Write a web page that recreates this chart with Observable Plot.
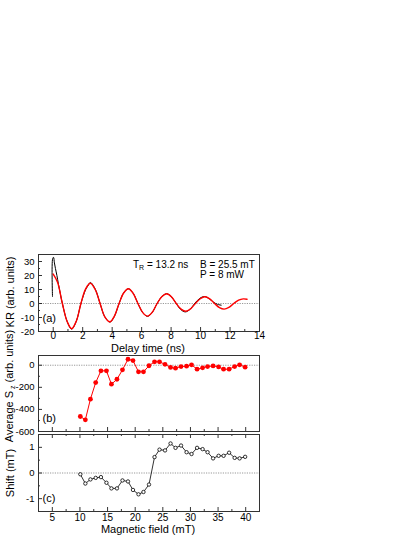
<!DOCTYPE html>
<html><head><meta charset="utf-8">
<script src="https://cdn.jsdelivr.net/npm/d3@7"></script>
<script src="https://cdn.jsdelivr.net/npm/@observablehq/plot@0.6"></script>
<style>
body{margin:0;background:#fff;font-family:"Liberation Sans",Arial,sans-serif;color:#000;}
#chart{position:relative;width:415px;height:537px;overflow:hidden;}
#chart svg{position:absolute;left:0;}
.lab{position:absolute;font-size:11px;white-space:nowrap;transform:translate(-50%,-50%);line-height:1;}
.ylab{position:absolute;font-size:11px;white-space:nowrap;transform:translate(-50%,-50%) rotate(-90deg);line-height:1;}
.ann{position:absolute;font-size:10px;white-space:nowrap;line-height:1;}
sub{font-size:7px;vertical-align:-2px;}
</style></head><body><div id="chart"></div><script>
// ---- Panel (a): Kerr rotation vs delay time ----
const fitTime = [0,0.3,0.62,0.95,1.25,1.57,1.88,2.2,2.52,2.85,3.18,3.5,3.85,4.15,4.47,4.78,5.1,5.42,5.75,6.08,6.4,6.72,7.05,7.38,7.7,8.02,8.35,8.68,9.0,9.32,9.65,9.98,10.3,10.62,10.95,11.28,11.6,11.92,12.25,12.58,12.9,13.15];
const fitKR   = [21,15,0,-13,-18,-12.5,0,10.5,14.5,10,0,-9.5,-13,-9,0,7.5,10.5,7.3,0,-6.5,-9,-6.3,0,5,7,4.9,0,-4,-5.5,-3.8,0,3.4,4.8,3.3,0,-2.9,-4,-2.8,0,2.4,3.3,3];
const dataTime = [-0.05,-0.04,0.02,0.08,0.15,0.25,0.35,0.48,0.62,0.95,1.25,1.57,1.88,2.2,2.35,2.52,2.85,3.18,3.5,3.85,4.15,4.47,4.78,5.1,5.42,5.75,6.08,6.4,6.72,7.05,7.38,7.7,8.02,8.33,8.65,8.97,9.3,9.62,9.95,10.27,10.6,10.9,11.15,11.4];
const dataKR   = [5,32,33,29,25,20,14,7,0,-13,-18.3,-12.5,0,10,12.5,15,10.3,0,-9.5,-13.3,-9.2,0,7.6,10.5,7.4,0,-6.6,-9.2,-6.4,0,5,7,4.8,0.3,-4.3,-6,-4,0.3,3.7,5,3.3,0.8,-0.6,-1.2];
const delayTicks = [0,2,4,6,8,10,12,14];
const delayMinor = [-1,1,3,5,7,9,11,13];
const krTicks = [-20,-10,0,10,20,30];
const krMinor = [-15,-5,5,15,25,35];

// ---- Panels (b), (c): vs magnetic field ----
const field = [10.07,10.98,11.9,12.85,13.8,14.8,15.7,16.7,17.7,18.7,19.6,20.6,21.5,22.5,23.5,24.4,25.4,26.4,27.3,28.3,29.3,30.2,31.2,32.2,33.1,34.1,35.1,36.0,37.0,38.0,38.9,39.9];
const avgSz = [-464,-494,-307,-157,-51,-51,-172,-127,-42,54,42,-60,-60,-5,31,31,8,-20,-27,-12,-9,4,-36,-24,-12,-6,-15,-36,-36,-12,4,-18];
const shift = [-0.05,-0.41,-0.25,-0.19,-0.16,-0.38,-0.6,-0.6,-0.29,-0.33,-0.66,-0.83,-0.74,-0.45,0.62,0.91,0.88,1.15,0.98,1.07,0.81,0.74,0.98,0.93,0.81,0.57,0.67,0.67,0.79,0.59,0.57,0.63];
const fieldTicks = [5,10,15,20,25,30,35,40];
const fieldMinor = [2.5,7.5,12.5,17.5,22.5,27.5,32.5,37.5,42.5];
const szTicks = [-600,-400,-200,0];
const szMinor = [-500,-300,-100];
const shiftTicks = [-1,0,1];
const shiftMinor = [-0.5,0.5];

const fitRows = fitTime.map((t,i)=>({t, v: fitKR[i]}));
const dataRows = dataTime.map((t,i)=>({t, v: dataKR[i]}));
const szRows = field.map((b,i)=>({b, v: avgSz[i]}));
const shRows = field.map((b,i)=>({b, v: shift[i]}));

const FONT = '"Liberation Sans", Arial, sans-serif';
const ML = 38, MR = 415-259;
const fmt = d => String(d);
const chart = document.getElementById("chart");

function inTicks(fh, fw, xs, xsMinor, ys, ysMinor, top=false){
  const m = [];
  m.push(Plot.ruleX(xs, {x: d=>d, insetTop: fh-4, stroke:"#000", strokeWidth:0.8}));
  m.push(Plot.ruleX(xsMinor, {x: d=>d, insetTop: fh-2, stroke:"#000", strokeWidth:0.8}));
  if (top) {
    m.push(Plot.ruleX(xs, {x: d=>d, insetBottom: fh-4, stroke:"#000", strokeWidth:0.8}));
    m.push(Plot.ruleX(xsMinor, {x: d=>d, insetBottom: fh-2, stroke:"#000", strokeWidth:0.8}));
  }
  m.push(Plot.ruleY(ys, {y: d=>d, insetRight: fw-4, stroke:"#000", strokeWidth:0.8}));
  m.push(Plot.ruleY(ysMinor, {y: d=>d, insetRight: fw-2, stroke:"#000", strokeWidth:0.8}));
  return m;
}
const style = {fontFamily: FONT, fontSize: "10px", color: "#000", background: "transparent", overflow: "visible"};
const FW = 415 - ML - MR;
const yAxisOpts = {tickSize:0, tickPadding:4, label:null, tickFormat: fmt, fontSize: 9.5};

// Panel (a)
const aTop=14, aBot=24, aH=115;
const pa = Plot.plot({
  width: 415, height: aH, marginLeft: ML, marginRight: MR, marginTop: aTop, marginBottom: aBot,
  style,
  x: {domain: [-1, 14]},
  y: {domain: [-20, 35]},
  marks: [
    Plot.ruleY([0], {stroke:"#999", strokeDasharray:"1.2,1.2", strokeWidth:1}),
    Plot.line(dataRows, {x:"t", y:"v", stroke:"#000", strokeWidth:1, curve:"catmull-rom"}),
    Plot.line(fitRows, {x:"t", y:"v", stroke:"#f00", strokeWidth:1.4, curve:"catmull-rom"}),
    ...inTicks(aH-aTop-aBot, FW, delayTicks, delayMinor, krTicks, krMinor),
    Plot.frame({stroke:"#333", strokeWidth:1}),
    Plot.axisX({ticks: delayTicks, tickSize:0, tickPadding:0, label:null, tickFormat: fmt}),
    Plot.axisY({ticks: krTicks, ...yAxisOpts}),
    Plot.text(["(a)"], {frameAnchor:"bottom-left", dx:4, dy:-10, textAnchor:"start", fontSize:11})
  ]
});
pa.style.top = "240px";
chart.appendChild(pa);

// Panel (b)
const bTop=10, bBot=2, bH=88;
const pb = Plot.plot({
  width: 415, height: bH, marginLeft: ML, marginRight: MR, marginTop: bTop, marginBottom: bBot,
  style,
  x: {domain: [2.5, 42.5], axis: null},
  y: {domain: [-600, 88], axis: null},
  marks: [
    Plot.ruleY([0], {stroke:"#999", strokeDasharray:"1.2,1.2", strokeWidth:1}),
    Plot.line(szRows, {x:"b", y:"v", stroke:"#f00", strokeWidth:1}),
    Plot.dot(szRows, {x:"b", y:"v", fill:"#f00", r:2.4}),
    ...inTicks(bH-bTop-bBot, FW, fieldTicks, fieldMinor, szTicks, szMinor),
    Plot.frame({stroke:"#333", strokeWidth:1}),
    Plot.axisY({ticks: szTicks, ...yAxisOpts}),
    Plot.text(["(b)"], {frameAnchor:"bottom-left", dx:4, dy:-10, textAnchor:"start", fontSize:11})
  ]
});
pb.style.top = "345px";
chart.appendChild(pb);

// Panel (c)
const cTop=10, cBot=26, cH=113;
const pc = Plot.plot({
  width: 415, height: cH, marginLeft: ML, marginRight: MR, marginTop: cTop, marginBottom: cBot,
  style,
  x: {domain: [2.5, 42.5]},
  y: {domain: [-1.5, 1.5]},
  marks: [
    Plot.ruleY([0], {stroke:"#999", strokeDasharray:"1.2,1.2", strokeWidth:1}),
    Plot.line(shRows, {x:"b", y:"v", stroke:"#000", strokeWidth:0.8}),
    Plot.dot(shRows, {x:"b", y:"v", fill:"#fff", stroke:"#000", strokeWidth:0.8, r:1.7}),
    ...inTicks(cH-cTop-cBot, FW, fieldTicks, fieldMinor, shiftTicks, shiftMinor, true),
    Plot.frame({stroke:"#333", strokeWidth:1}),
    Plot.axisX({ticks: fieldTicks, tickSize:0, tickPadding:2, label:null, tickFormat: fmt}),
    Plot.axisY({ticks: shiftTicks, ...yAxisOpts}),
    Plot.text(["(c)"], {frameAnchor:"bottom-left", dx:4, dy:-10, textAnchor:"start", fontSize:11})
  ]
});
pc.style.top = "424px";
chart.appendChild(pc);

// Labels and annotations (HTML text)
function add(cls, html, x, y){
  const d = document.createElement("div");
  d.className = cls; d.innerHTML = html;
  d.style.left = x+"px"; d.style.top = y+"px";
  chart.appendChild(d);
}
add("ylab", "KR (arb. units)", 10, 292);
add("lab", "Delay time (ns)", 148, 348);
add("ylab", "Average S<sub style=\"margin-left:2px\">z</sub> (arb. units)", 10, 386);
add("ylab", "Shift (mT)", 10, 473);
add("lab", "Magnetic field (mT)", 148, 529);
add("ann", "T<sub>R</sub> = 13.2 ns", 133, 260);
add("ann", "B = 25.5 mT", 200, 260);
add("ann", "P = 8 mW", 200, 270);
</script></body></html>
